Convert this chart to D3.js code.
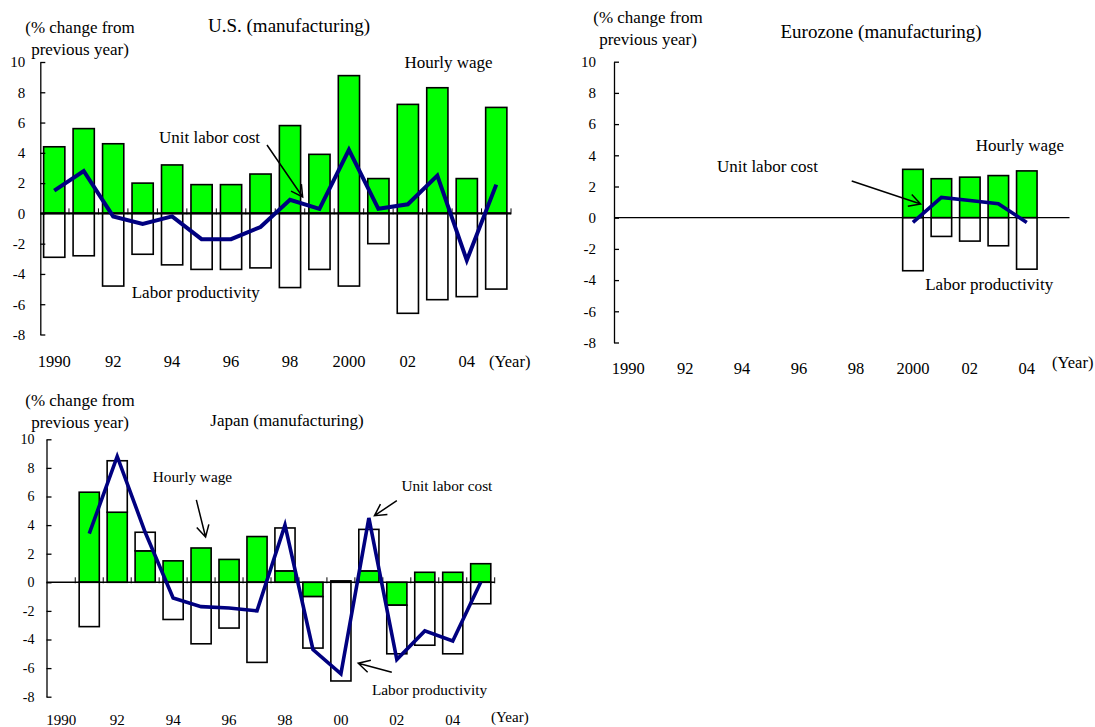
<!DOCTYPE html>
<html>
<head>
<meta charset="utf-8">
<script src="https://cdn.jsdelivr.net/npm/d3@7"></script>
<style>
  body { margin: 0; background: #fff; }
  svg { display: block; }
  text { font-family: "Liberation Serif", "Times New Roman", serif; fill: #000; }
</style>
</head>
<body>
<svg id="chart" width="1095" height="727"></svg>
<script>
// ---- Data (% change from previous year, manufacturing) ----
const years = d3.range(1990, 2006);
const yTicks = [-8, -6, -4, -2, 0, 2, 4, 6, 8, 10];
const yearLabelsUS = ["1990", "92", "94", "96", "98", "2000", "02", "04"];
const yearLabelsEU = ["1990", "92", "94", "96", "98", "2000", "02", "04"];
const yearLabelsJP = ["1990", "92", "94", "96", "98", "00", "02", "04"];

// U.S., 1990-2005
const usYears = d3.range(1990, 2006);
const usWage = [4.4, 5.6, 4.6, 2.0, 3.2, 1.9, 1.9, 2.6, 5.8, 3.9, 9.1, 2.3, 7.2, 8.3, 2.3, 7.0];
const usProductivity = [-2.9, -2.8, -4.8, -2.7, -3.4, -3.7, -3.7, -3.6, -4.9, -3.7, -4.8, -2.0, -6.6, -5.7, -5.5, -5.0];
const usUnitLaborCost = [1.5, 2.8, -0.2, -0.7, -0.2, -1.7, -1.7, -0.9, 0.9, 0.3, 4.2, 0.3, 0.6, 2.5, -3.1, 1.9];

// Eurozone, 2000-2004
const euYears = d3.range(2000, 2005);
const euWage = [3.1, 2.5, 2.6, 2.7, 3.0];
const euProductivity = [-3.4, -1.2, -1.5, -1.8, -3.3];
const euUnitLaborCost = [-0.3, 1.3, 1.1, 0.9, -0.3];

// Japan, 1991-2005
const jpYears = d3.range(1991, 2006);
const jpWage = [6.3, 4.9, 2.2, 1.5, 2.4, 1.6, 3.2, 0.8, -1.0, 0.1, 0.8, -1.6, 0.7, 0.7, 1.3];
const jpProductivity = [-3.1, 3.6, 1.3, -2.6, -4.3, -3.2, -5.6, 3.0, -3.6, -6.9, 2.9, -3.4, -4.4, -5.0, -1.5];
const jpUnitLaborCost = [3.4, 8.8, 3.5, -1.1, -1.7, -1.8, -2.0, 4.0, -4.7, -6.4, 4.5, -5.4, -3.4, -4.1, 0.0];

// Annotation anchors in data units: [year, value]
const usNotes = {
  wage: [2003.38, 10.0], ulc: [1995.27, 5.05], prod: [1994.8, -5.19],
  arrows: [[[1997.22, 4.52], [1998.43, 1.08]]]
};
const euNotes = {
  wage: [2003.76, 4.66], ulc: [1994.89, 3.31], prod: [2002.68, -4.25],
  arrows: [[[1997.85, 2.35], [2000.27, 0.88]]]
};
const jpNotes = {
  wage: [1994.69, 7.36], ulc: [2003.79, 6.73], prod: [2003.17, -7.53],
  arrows: [
    [[1994.83, 5.76], [1995.16, 3.17]],
    [[2002.0, 5.71], [2001.2, 4.66]],
    [[2001.82, -6.29], [2000.62, -5.66]]
  ]
};

const svg = d3.select("#chart");
const GREEN = "#00ff00";
const NAVY = "#000080";

function arrowPath(x1, y1, x2, y2, len, ang) {
  const a = Math.atan2(y2 - y1, x2 - x1);
  const p = d3.path();
  p.moveTo(x1, y1); p.lineTo(x2, y2);
  p.moveTo(x2 - len * Math.cos(a - ang), y2 - len * Math.sin(a - ang));
  p.lineTo(x2, y2);
  p.lineTo(x2 - len * Math.cos(a + ang), y2 - len * Math.sin(a + ang));
  return p.toString();
}

function drawPanel(cfg) {
  const g = svg.append("g");
  const x = d3.scaleBand().domain(years).range(cfg.xRange)
    .paddingInner(0.28).paddingOuter(0.14);
  const y = d3.scaleLinear().domain([-8, 10]).range(cfg.yRange);
  const bw = x.bandwidth();
  const cx = d3.scaleLinear().domain([1990, 2005])
    .range([x(1990) + bw / 2, x(2005) + bw / 2]);

  const rows = cfg.yearsData.map((yr, i) => ({
    year: yr, wage: cfg.wage[i], prod: cfg.prod[i], ulc: cfg.ulc[i]
  }));

  // Wage and productivity contributions stacked around zero
  const stacked = d3.stack().keys(["wage", "prod"])
    .offset(d3.stackOffsetDiverging)(rows);
  const fills = [GREEN, "#fff"];
  stacked.forEach((layer, k) => {
    g.append("g").selectAll("rect").data(layer).join("rect")
      .attr("x", d => x(d.data.year))
      .attr("width", bw)
      .attr("y", d => y(Math.max(d[0], d[1])))
      .attr("height", d => Math.abs(y(d[0]) - y(d[1])))
      .attr("fill", fills[k])
      .attr("stroke", "#000")
      .attr("stroke-width", 1.6);
  });

  // Zero line
  g.append("line")
    .attr("x1", cfg.axisX).attr("x2", cfg.xRange[1])
    .attr("y1", y(0)).attr("y2", y(0))
    .attr("stroke", "#000").attr("stroke-width", cfg.zeroWidth);

  if (cfg.zeroTicks) {
    const step = x.step();
    g.append("g").selectAll("line").data(d3.range(1, 17)).join("line")
      .attr("x1", i => cfg.xRange[0] + i * step)
      .attr("x2", i => cfg.xRange[0] + i * step)
      .attr("y1", y(0) - 5).attr("y2", y(0) + 1)
      .attr("stroke", "#000").attr("stroke-width", 1);
  }

  // Unit labor cost line
  g.append("path").datum(rows)
    .attr("d", d3.line().x(d => x(d.year) + bw / 2).y(d => y(d.ulc)))
    .attr("fill", "none").attr("stroke", NAVY)
    .attr("stroke-width", cfg.lineWidth)
    .attr("stroke-linejoin", "miter");

  // Y axis
  const yAxis = d3.axisLeft(y).tickValues(yTicks)
    .tickSizeInner(-5).tickSizeOuter(0).tickPadding(cfg.tickPad)
    .tickFormat(d => String(d));
  const ya = g.append("g").attr("transform", `translate(${cfg.axisX},0)`).call(yAxis);
  ya.select(".domain").attr("stroke-width", 1.3);
  ya.selectAll(".tick line").attr("stroke-width", 1.3);
  ya.selectAll("text").attr("font-family", null).attr("font-size", cfg.tickFont).attr("fill", "#000");

  // Year labels
  const xAxis = d3.axisBottom(x)
    .tickValues(years.filter(yv => yv % 2 === 0))
    .tickSize(0).tickPadding(0)
    .tickFormat((d, i) => cfg.yearLabels[i]);
  const xa = g.append("g").attr("transform", `translate(0,${cfg.yearY})`).call(xAxis);
  xa.select(".domain").remove();
  xa.selectAll("text").attr("font-family", null).attr("font-size", cfg.yearFont)
    .attr("dy", "0.35em").attr("fill", "#000");
  g.append("text").attr("x", cfg.yearTagX).attr("y", cfg.yearTagY)
    .attr("dy", "0.35em").attr("font-size", cfg.yearFont).text("(Year)");

  // Titles and units
  g.append("text").attr("x", cfg.title[0]).attr("y", cfg.title[1])
    .attr("text-anchor", "middle").attr("dy", "0.35em")
    .attr("font-size", cfg.titleFont).text(cfg.titleText);
  ["(% change from", "previous year)"].forEach((t, i) => {
    g.append("text").attr("x", cfg.unit[0]).attr("y", cfg.unit[1] + i * 22)
      .attr("text-anchor", "middle").attr("dy", "0.35em")
      .attr("font-size", 17).text(t);
  });

  // Series annotations
  const notes = cfg.notes;
  [["wage", "Hourly wage"], ["ulc", "Unit labor cost"], ["prod", "Labor productivity"]]
    .forEach(([k, t]) => {
      g.append("text").attr("x", cx(notes[k][0])).attr("y", y(notes[k][1]))
        .attr("text-anchor", "middle").attr("dy", "0.35em")
        .attr("font-size", cfg.noteFont).text(t);
    });
  notes.arrows.forEach(([a, b]) => {
    g.append("path")
      .attr("d", arrowPath(cx(a[0]), y(a[1]), cx(b[0]), y(b[1]), 13, 0.5))
      .attr("fill", "none").attr("stroke", "#000").attr("stroke-width", 1.5);
  });
}

drawPanel({
  yearsData: usYears, wage: usWage, prod: usProductivity, ulc: usUnitLaborCost,
  xRange: [39.5, 511], yRange: [334.5, 62], axisX: 40.3,
  zeroWidth: 2.2, zeroTicks: true, lineWidth: 4,
  tickPad: 15, tickFont: 15, yearFont: 16.5, yearLabels: yearLabelsUS,
  yearY: 361, yearTagX: 489, yearTagY: 361,
  title: [289, 25], titleText: "U.S. (manufacturing)", titleFont: 19,
  unit: [80, 27], noteFont: 17, notes: usNotes
});

drawPanel({
  yearsData: euYears, wage: euWage, prod: euProductivity, ulc: euUnitLaborCost,
  xRange: [614, 1069.5], yRange: [342.5, 61.7], axisX: 614,
  zeroWidth: 1.2, zeroTicks: false, lineWidth: 3.6,
  tickPad: 18, tickFont: 15, yearFont: 16.5, yearLabels: yearLabelsEU,
  yearY: 368, yearTagX: 1052, yearTagY: 362,
  title: [881, 31], titleText: "Eurozone (manufacturing)", titleFont: 19,
  unit: [648, 17], noteFont: 17, notes: euNotes
});

drawPanel({
  yearsData: jpYears, wage: jpWage, prod: jpProductivity, ulc: jpUnitLaborCost,
  xRange: [47.3, 494.7], yRange: [696.7, 439.3], axisX: 46.5,
  zeroWidth: 1.5, zeroTicks: true, lineWidth: 3.6,
  tickPad: 12, tickFont: 14, yearFont: 15, yearLabels: yearLabelsJP,
  yearY: 720, yearTagX: 491, yearTagY: 717,
  title: [287, 420], titleText: "Japan (manufacturing)", titleFont: 17,
  unit: [80, 400], noteFont: 15.3, notes: jpNotes
});
</script>
</body>
</html>
